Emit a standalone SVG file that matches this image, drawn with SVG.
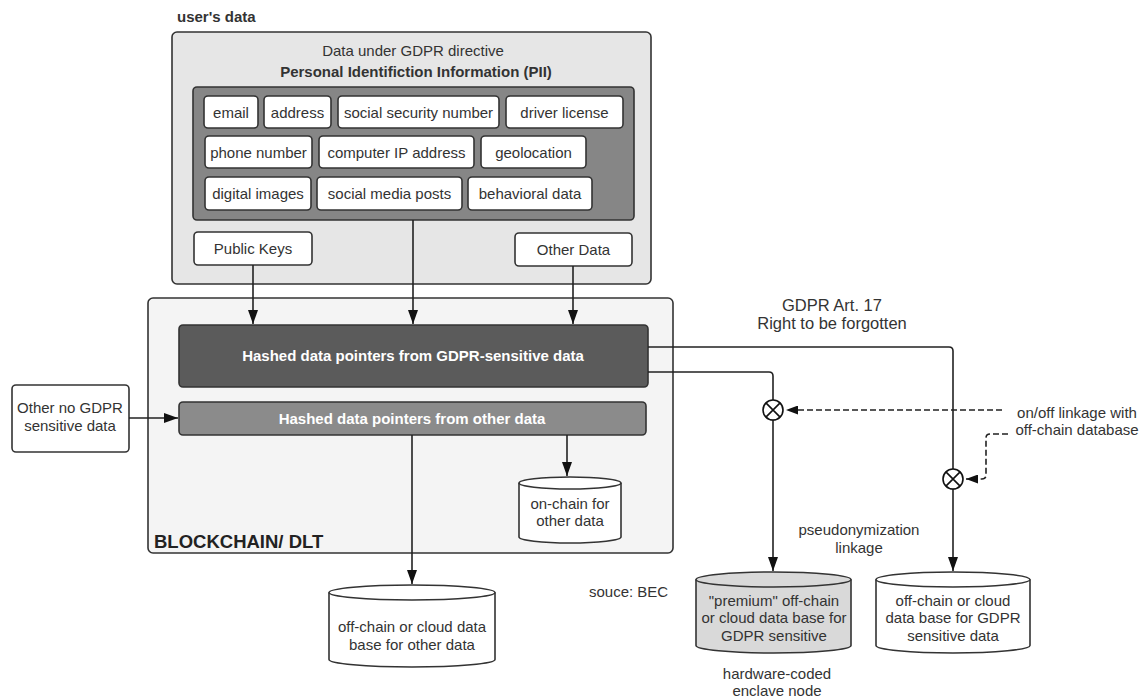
<svg xmlns="http://www.w3.org/2000/svg" width="1141" height="698" viewBox="0 0 1141 698">
  <style>
    text { font-family: "Liberation Sans", Arial, sans-serif; fill: #333; font-size: 15px; }
    .c { text-anchor: middle; }
    .b { font-weight: bold; }
    .w { fill: #fff; font-weight: bold; }
    .box { stroke: #333; stroke-width: 1.6; }
    .pill { fill: #fff; stroke: #333; stroke-width: 1.6; }
    .ln { fill: none; stroke: #222; stroke-width: 1.6; }
    .dash { fill: none; stroke: #222; stroke-width: 1.6; stroke-dasharray: 6 3; }
    .cyl { stroke: #333; stroke-width: 1.6; }
  </style>
  <defs>
    <marker id="arrL" viewBox="0 0 14 10" refX="14" refY="5" markerWidth="14" markerHeight="10" markerUnits="userSpaceOnUse" orient="auto">
      <path d="M0,0 L14,5 L0,10 Z" fill="#111"/>
    </marker>
    <marker id="arrS" viewBox="0 0 12 9" refX="12" refY="4.5" markerWidth="12" markerHeight="9" markerUnits="userSpaceOnUse" orient="auto">
      <path d="M0,0 L12,4.5 L0,9 Z" fill="#111"/>
    </marker>
  </defs>

  <rect width="1141" height="698" fill="#fff"/>

  <!-- user's data container -->
  <g id="users-data">
    <text x="177" y="22" class="b">user's data</text>
    <rect x="172" y="32" width="479" height="252" rx="5" fill="#e6e6e6" class="box"/>
    <text x="413" y="56" class="c">Data under GDPR directive</text>
    <text x="416" y="77" class="c b">Personal Identifiction Information (PII)</text>
  </g>

  <!-- PII attribute group -->
  <g id="pii">
    <rect x="193" y="87" width="441" height="133" rx="4" fill="#868686" class="box"/>
    <rect x="204" y="96" width="54" height="32" rx="4" class="pill"/>
    <text x="231" y="117.5" class="c">email</text>
    <rect x="264" y="96" width="67" height="32" rx="4" class="pill"/>
    <text x="297.5" y="117.5" class="c">address</text>
    <rect x="338" y="96" width="161" height="32" rx="4" class="pill"/>
    <text x="418.5" y="117.5" class="c">social security number</text>
    <rect x="506" y="96" width="117" height="32" rx="4" class="pill"/>
    <text x="564.5" y="117.5" class="c">driver license</text>

    <rect x="205" y="136" width="107" height="32" rx="4" class="pill"/>
    <text x="258.5" y="157.5" class="c">phone number</text>
    <rect x="319" y="136" width="155" height="32" rx="4" class="pill"/>
    <text x="396.5" y="157.5" class="c">computer IP address</text>
    <rect x="481" y="136" width="105" height="32" rx="4" class="pill"/>
    <text x="533.5" y="157.5" class="c">geolocation</text>

    <rect x="205" y="177" width="106" height="33" rx="4" class="pill"/>
    <text x="258" y="198.5" class="c">digital images</text>
    <rect x="317" y="177" width="145" height="33" rx="4" class="pill"/>
    <text x="389.5" y="198.5" class="c">social media posts</text>
    <rect x="468" y="177" width="124" height="33" rx="4" class="pill"/>
    <text x="530" y="198.5" class="c">behavioral data</text>
  </g>

  <g id="public-keys">
    <rect x="194" y="232" width="118" height="33" rx="4" class="pill"/>
    <text x="253" y="253.5" class="c">Public Keys</text>
  </g>

  <g id="other-data">
    <rect x="515" y="233" width="117" height="33" rx="4" class="pill"/>
    <text x="573.5" y="254.5" class="c">Other Data</text>
  </g>

  <!-- blockchain / DLT container -->
  <g id="blockchain">
    <rect x="148" y="298" width="525" height="255" rx="5" fill="#f4f4f4" class="box"/>
    <text x="154" y="548" class="b" style="font-size:18.5px;fill:#222">BLOCKCHAIN/ DLT</text>
  </g>

  <g id="hashed-gdpr">
    <rect x="179" y="325" width="469" height="62" rx="4" fill="#5b5b5b" class="box"/>
    <text x="413" y="361" class="c w">Hashed data pointers from GDPR-sensitive data</text>
  </g>

  <g id="hashed-other">
    <rect x="179" y="402" width="467" height="33" rx="4" fill="#8b8b8b" class="box"/>
    <text x="412" y="424" class="c w">Hashed data pointers from other data</text>
  </g>

  <g id="other-no-gdpr">
    <rect x="12" y="385" width="117" height="67" rx="4" class="pill"/>
    <text x="70" y="413" class="c">Other no GDPR</text>
    <text x="70" y="431" class="c">sensitive data</text>
  </g>

  <g id="onchain-db">
    <path d="M519,483 A51,6 0 0 1 621,483 V537 A51,6 0 0 1 519,537 Z" fill="#fff" class="cyl"/>
    <path d="M519,483 A51,6 0 0 0 621,483" fill="none" class="cyl"/>
    <text x="570" y="509" class="c">on-chain for</text>
    <text x="570" y="526" class="c">other data</text>
  </g>

  <g id="offchain-other-db">
    <path d="M329,592.5 A83,7.5 0 0 1 495,592.5 V659.5 A83,7.5 0 0 1 329,659.5 Z" fill="#fff" class="cyl"/>
    <path d="M329,592.5 A83,7.5 0 0 0 495,592.5" fill="none" class="cyl"/>
    <text x="412" y="632" class="c">off-chain or cloud data</text>
    <text x="412" y="650" class="c">base for other data</text>
  </g>

  <g id="premium-db">
    <path d="M696,579.5 A77.5,7.5 0 0 1 851,579.5 V645.5 A77.5,7.5 0 0 1 696,645.5 Z" fill="#d9d9d9" class="cyl"/>
    <path d="M696,579.5 A77.5,7.5 0 0 0 851,579.5" fill="none" class="cyl"/>
    <text x="774" y="605.5" class="c">"premium" off-chain</text>
    <text x="774" y="623" class="c">or cloud data base for</text>
    <text x="774" y="640.5" class="c">GDPR sensitive</text>
  </g>

  <g id="gdpr-db">
    <path d="M876,579.5 A77,7.5 0 0 1 1030,579.5 V645.5 A77,7.5 0 0 1 876,645.5 Z" fill="#fff" class="cyl"/>
    <path d="M876,579.5 A77,7.5 0 0 0 1030,579.5" fill="none" class="cyl"/>
    <text x="953" y="605.5" class="c">off-chain or cloud</text>
    <text x="953" y="623" class="c">data base for GDPR</text>
    <text x="953" y="640.5" class="c">sensitive data</text>
  </g>

  <!-- connectors -->
  <g id="connectors">
    <line x1="253" y1="265" x2="253" y2="324" class="ln" marker-end="url(#arrL)"/>
    <line x1="413" y1="220" x2="413" y2="324" class="ln" marker-end="url(#arrL)"/>
    <line x1="573" y1="266" x2="573" y2="324" class="ln" marker-end="url(#arrL)"/>
    <line x1="129" y1="418" x2="178" y2="418" class="ln" marker-end="url(#arrL)"/>
    <line x1="412" y1="435" x2="412" y2="584" class="ln" marker-end="url(#arrL)"/>
    <line x1="567" y1="435" x2="567" y2="476" class="ln" marker-end="url(#arrL)"/>
    <path d="M648,347 H949 Q953,347 953,351 V571" class="ln" marker-end="url(#arrL)"/>
    <path d="M648,372 H769 Q773,372 773,376 V571" class="ln" marker-end="url(#arrL)"/>
    <path d="M1002,410 H786" class="dash" marker-end="url(#arrS)"/>
    <path d="M1008,434 H990 Q986,434 986,438 V475 Q986,479 982,479 H966" class="dash" marker-end="url(#arrS)"/>
  </g>

  <!-- on/off switches -->
  <g id="switch-premium">
    <circle cx="773" cy="410" r="10" fill="#fff" stroke="#111" stroke-width="1.6"/>
    <path d="M765.9,402.9 L780.1,417.1 M780.1,402.9 L765.9,417.1" stroke="#111" stroke-width="1.6"/>
  </g>
  <g id="switch-gdpr">
    <circle cx="953" cy="479" r="10" fill="#fff" stroke="#111" stroke-width="1.6"/>
    <path d="M945.9,471.9 L960.1,486.1 M960.1,471.9 L945.9,486.1" stroke="#111" stroke-width="1.6"/>
  </g>

  <!-- annotations -->
  <g id="labels">
    <text x="832" y="311" class="c" style="font-size:16.5px">GDPR Art. 17</text>
    <text x="832" y="329" class="c" style="font-size:16.5px">Right to be forgotten</text>
    <text x="1077" y="418" class="c">on/off linkage with</text>
    <text x="1077" y="435" class="c">off-chain database</text>
    <text x="859" y="535" class="c">pseudonymization</text>
    <text x="859" y="553" class="c">linkage</text>
    <text x="589" y="597">souce: BEC</text>
    <text x="777" y="679" class="c">hardware-coded</text>
    <text x="777" y="696" class="c">enclave node</text>
  </g>
</svg>
